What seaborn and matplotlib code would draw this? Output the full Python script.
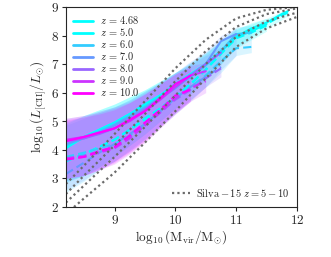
import numpy as np
import seaborn as sns
import matplotlib.pyplot as plt
from matplotlib import cm

sns.set_style("ticks")
plt.rcParams['font.family'] = 'serif'
plt.rcParams['font.serif'] = ['cmr10']
plt.rcParams['mathtext.fontset'] = 'cm'
plt.rcParams['axes.formatter.use_mathtext'] = True

# halo mass grid (log10 Mvir / Msun), truncated per redshift
mass = [8.2, 8.5, 8.75, 9.0, 9.25, 9.5, 9.75, 10.0, 10.25, 10.5, 10.75, 11.0, 11.25, 11.5, 11.75, 11.85]

redshifts = ['4.68', '5.0', '6.0', '7.0', '8.0', '9.0', '10.0']

mean_468 = [4.05, 4.45, 4.7, 4.95, 5.25, 5.55, 5.9, 6.25, 6.6, 7.0, 7.45, 7.95, 8.25, 8.45, 8.75, 8.85]
med_468 = [3.6, 3.85, 4.1, 4.35, 4.7, 5.05, 5.45, 5.85, 6.3, 6.8, 7.4, 7.95, 8.2, 8.4, 8.7, 8.8]
lo_468 = [2.9, 3.1, 3.4, 3.75, 4.15, 4.55, 5.0, 5.45, 5.95, 6.5, 7.0, 7.6, 7.95, 8.25, 8.55, 8.7]
hi_468 = [4.9, 5.2, 5.4, 5.6, 5.85, 6.1, 6.4, 6.7, 7.0, 7.35, 7.8, 8.2, 8.45, 8.6, 8.85, 8.9]

mean_5 = [4.1, 4.45, 4.7, 4.95, 5.25, 5.6, 5.9, 6.3, 6.65, 7.0, 7.45, 7.95, 8.15, 8.4]
med_5 = [3.6, 3.85, 4.1, 4.35, 4.7, 5.1, 5.45, 5.85, 6.3, 6.8, 7.35, 7.9, 8.1, 8.35]
lo_5 = [2.85, 3.1, 3.4, 3.75, 4.15, 4.55, 5.0, 5.45, 5.95, 6.45, 7.0, 7.55, 7.85, 8.15]
hi_5 = [4.95, 5.2, 5.4, 5.6, 5.85, 6.1, 6.4, 6.7, 7.05, 7.4, 7.8, 8.25, 8.4, 8.6]

mean_6 = [4.15, 4.45, 4.65, 4.9, 5.2, 5.5, 5.85, 6.2, 6.55, 6.95, 7.45, 8.05, 8.1]
med_6 = [3.75, 3.9, 4.05, 4.2, 4.5, 4.9, 5.35, 5.8, 6.2, 6.6, 7.1, 7.55, 7.6]
lo_6 = [2.5, 2.9, 3.3, 3.6, 4.0, 4.4, 4.85, 5.3, 5.75, 6.2, 6.7, 7.3, 7.4]
hi_6 = [4.85, 5.1, 5.3, 5.5, 5.75, 6.05, 6.35, 6.7, 7.05, 7.4, 7.85, 8.3, 8.35]

mean_7 = [4.2, 4.4, 4.6, 4.85, 5.15, 5.45, 5.8, 6.15, 6.6, 7.0, 7.8, 8.05]
med_7 = [3.15, 3.55, 3.9, 4.2, 4.55, 4.9, 5.35, 5.8, 6.2, 6.55, 6.9]
lo_7 = [2.6, 2.95, 3.3, 3.6, 3.95, 4.35, 4.8, 5.25, 5.7, 6.2, 6.8, 7.3]
hi_7 = [5.0, 5.15, 5.35, 5.5, 5.75, 6.05, 6.35, 6.7, 7.1, 7.45, 8.0, 8.25]

mean_8 = [4.3, 4.4, 4.55, 4.75, 5.05, 5.4, 5.8, 6.2, 6.6, 7.0, 7.4]
med_8 = [3.7, 3.8, 3.95, 4.1, 4.45, 4.85, 5.3, 5.75, 6.1, 6.5, 6.85]
lo_8 = [2.9, 3.1, 3.35, 3.6, 3.95, 4.35, 4.8, 5.3, 5.75, 6.2, 6.55]
hi_8 = [5.1, 5.2, 5.35, 5.5, 5.7, 6.0, 6.35, 6.7, 7.0, 7.3, 7.6]

mean_9 = [4.35, 4.45, 4.6, 4.75, 5.0, 5.35, 5.75, 6.2, 6.6, 6.75]
med_9 = [3.7, 3.75, 3.9, 4.05, 4.4, 4.85, 5.3, 5.8, 6.15, 6.4]
lo_9 = [3.0, 3.1, 3.3, 3.5, 3.85, 4.25, 4.75, 5.25, 5.7, 6.0]
hi_9 = [5.1, 5.2, 5.3, 5.45, 5.65, 5.95, 6.3, 6.65, 6.95, 7.05]

mean_10 = [4.3, 4.45, 4.6, 4.75, 5.05, 5.35, 5.8, 6.3, 6.6]
med_10 = [3.65, 3.75, 3.95, 4.1, 4.5, 4.95, 5.4, 5.9, 6.1]
lo_10 = [3.0, 3.1, 3.3, 3.55, 3.9, 4.3, 4.8, 5.3, 5.7]
hi_10 = [5.05, 5.15, 5.25, 5.4, 5.65, 5.95, 6.3, 6.65, 6.9]

means = [mean_468, mean_5, mean_6, mean_7, mean_8, mean_9, mean_10]
medians = [med_468, med_5, med_6, med_7, med_8, med_9, med_10]
lows = [lo_468, lo_5, lo_6, lo_7, lo_8, lo_9, lo_10]
highs = [hi_468, hi_5, hi_6, hi_7, hi_8, hi_9, hi_10]

# Silva et al. 2015 relations
silva_x = [8.2, 8.5, 9.0, 9.5, 10.0, 10.5, 11.0, 11.5, 12.0]
silva_a = [2.8, 3.45, 4.55, 5.7, 6.85, 7.85, 8.6, 8.9, 9.0]
silva_b = [2.45, 3.1, 4.15, 5.25, 6.4, 7.45, 8.3, 8.75, 8.95]
silva_c = [2.15, 2.75, 3.75, 4.8, 5.9, 7.0, 7.95, 8.5, 8.8]
silva_d = [1.75, 2.3, 3.2, 4.25, 5.35, 6.5, 7.6, 8.25, 8.65]

fig = plt.figure(figsize=(3.31, 2.57), dpi=100)
ax = fig.add_axes([0.199, 0.195, 0.698, 0.778])

cmap = cm.get_cmap('cool')
zvals = [4.68, 5.0, 6.0, 7.0, 8.0, 9.0, 10.0]
colors = [cmap(np.clip((z - 5.0) / 5.0, 0, 1)) for z in zvals]

for i, z in enumerate(redshifts):
    ax.fill_between(mass[:len(lows[i])], lows[i], highs[i], color=colors[i], alpha=0.18, lw=0)

for i, z in enumerate(redshifts):
    sns.lineplot(x=mass[:len(means[i])], y=means[i], ax=ax, color=colors[i], lw=1.5,
                 label=r'$z\,=\,%s$' % z)
    sns.lineplot(x=mass[:len(medians[i])], y=medians[i], ax=ax, color=colors[i], lw=1.5,
                 linestyle=(0, (4, 2)))

silva_lines = []
for ys in [silva_a, silva_b, silva_c, silva_d]:
    l, = ax.plot(silva_x, ys, color='0.42', lw=1.6, linestyle=(0, (1, 1.4)))
    silva_lines.append(l)

ax.set_xlim(8.2, 12)
ax.set_ylim(2, 9)
ax.set_xticks([9, 10, 11, 12])
ax.set_yticks([2, 3, 4, 5, 6, 7, 8, 9])
ax.tick_params(axis='both', labelsize=9.5, length=3, width=0.8, pad=2)
ax.set_xlabel(r'$\log_{10}(\mathrm{M_{vir}/M_{\odot}})$', fontsize=9.5, labelpad=1)
ax.set_ylabel(r'$\log_{10}(L_{[\mathrm{CII}]}/L_{\odot})$', fontsize=9.5, labelpad=2)

leg1 = ax.legend(loc='upper left', fontsize=7.5, frameon=False, handlelength=1.9,
                 labelspacing=0.0, borderaxespad=0.3, handletextpad=0.7)
for h in leg1.get_lines():
    h.set_linewidth(2.0)
ax.add_artist(leg1)
ax.legend([silva_lines[0]], [r'$\mathrm{Silva}-15\ z=5-10$'], loc='lower right', fontsize=7.5,
          frameon=False, handlelength=1.8, borderaxespad=0.4, handletextpad=0.5)

plt.savefig('out.png', dpi=100)
